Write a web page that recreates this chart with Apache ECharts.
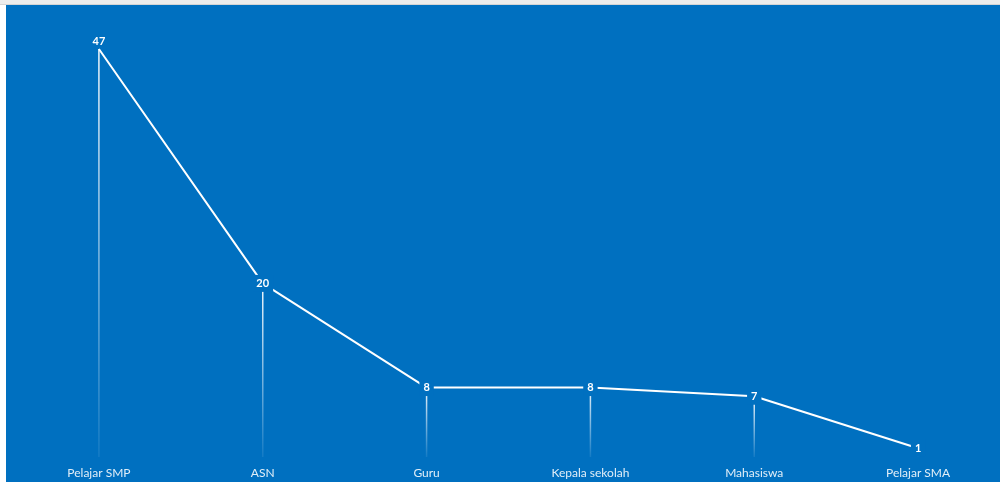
<!DOCTYPE html>
<html>
<head>
<meta charset="utf-8">
<script src="https://cdn.jsdelivr.net/npm/echarts@6/dist/echarts.min.js"></script>
<style>
  html, body { margin: 0; padding: 0; background: #ffffff; width: 1000px; height: 482px; overflow: hidden; }
  #topbar { position: absolute; left: 0; top: 0; width: 1000px; height: 4px; background: #ececec; border-bottom: 1px solid #d4d4d4; }
  #chart { position: absolute; left: 6px; top: 5px; width: 994px; height: 477px; background: #0070C0; }
</style>
</head>
<body>
<div id="topbar"></div>
<div id="chart"></div>
<script>
const categories = ['Pelajar SMP', 'ASN', 'Guru', 'Kepala sekolah', 'Mahasiswa', 'Pelajar SMA'];
const values = [47, 20, 8, 8, 7, 1];

const BG = '#0070C0';
const chart = echarts.init(document.getElementById('chart'));

const lineData = values.map((v, i) => {
  if (i === 0) {
    return { value: v, label: { offset: [0, -8], backgroundColor: 'transparent' } };
  }
  return v;
});

chart.setOption({
  backgroundColor: BG,
  animation: false,
  grid: { left: 11, width: 984, top: 18, bottom: 25 },
  xAxis: {
    type: 'category',
    data: categories,
    boundaryGap: true,
    axisLine: { show: false },
    axisTick: { show: false },
    splitLine: { show: false },
    axisLabel: {
      color: 'rgba(255,255,255,0.88)',
      fontFamily: 'Lato',
      fontSize: 12,
      margin: 10
    }
  },
  yAxis: {
    type: 'value',
    min: 0,
    max: 50,
    show: false
  },
  series: [
    {
      type: 'bar',
      data: values,
      barWidth: 1.5,
      z: 1,
      silent: true,
      itemStyle: {
        color: new echarts.graphic.LinearGradient(0, 0, 0, 1, [
          { offset: 0, color: 'rgba(255,255,255,0.95)' },
          { offset: 1, color: 'rgba(255,255,255,0.08)' }
        ])
      }
    },
    {
      type: 'line',
      data: lineData,
      z: 3,
      symbol: 'circle',
      symbolSize: 1,
      showSymbol: true,
      itemStyle: { color: 'rgba(0,0,0,0)', borderWidth: 0 },
      lineStyle: { color: '#ffffff', width: 2 },
      label: {
        show: true,
        position: 'inside',
        color: '#ffffff',
        fontFamily: 'Lato',
        fontWeight: 'bold',
        fontSize: 11,
        backgroundColor: BG,
        padding: [3, 4]
      }
    }
  ]
});
</script>
</body>
</html>
